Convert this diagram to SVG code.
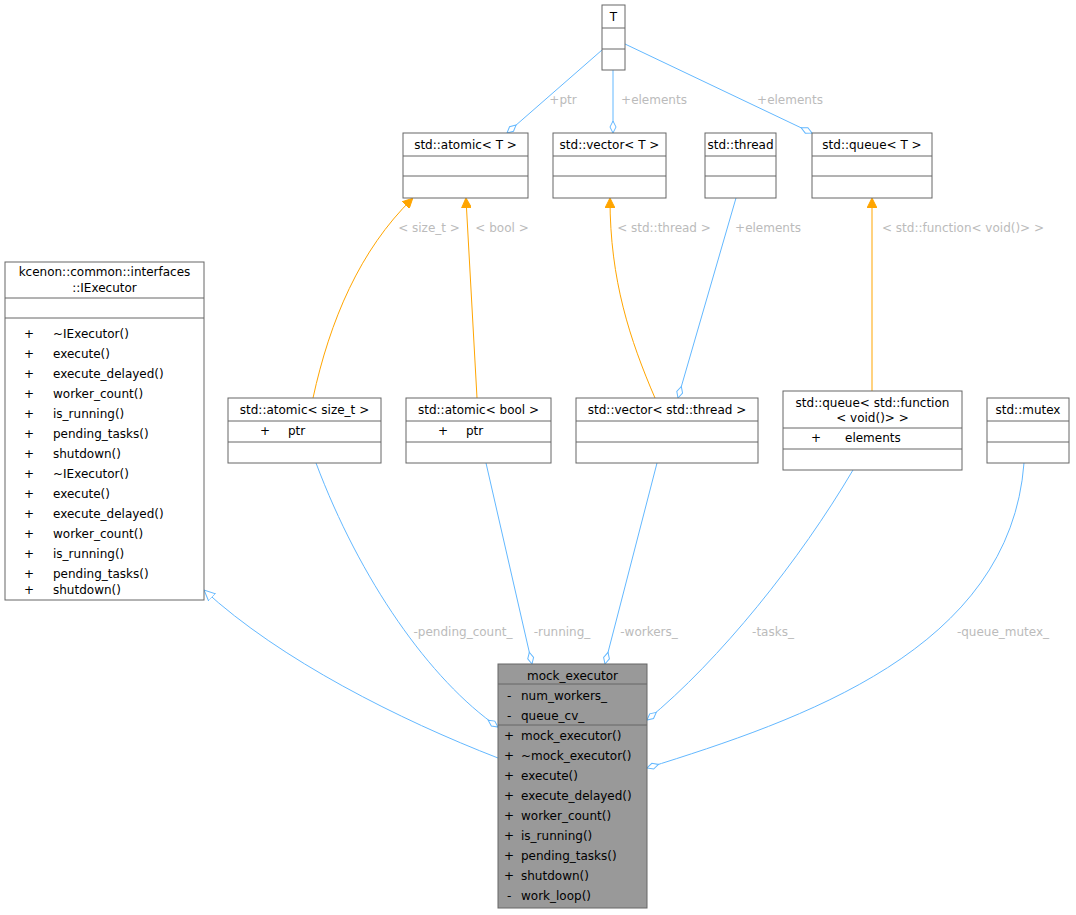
<svg xmlns="http://www.w3.org/2000/svg" width="1076" height="915" viewBox="0 0 1076 915">
<style>
text{font-family:"DejaVu Sans",sans-serif;font-size:12px;fill:#000}
.b{fill:#fff;stroke:#666;stroke-width:1}
.m{fill:#999;stroke:#666;stroke-width:1}
.s{stroke:#666;stroke-width:1}
.c{text-anchor:middle}
.l{fill:#bbb;text-anchor:middle}
.e{fill:none;stroke:#63b8ff;stroke-width:1}
.o{fill:none;stroke:#ffa500;stroke-width:1}
</style>
<defs>
<marker id="d" viewBox="0 0 14 8" refX="13" refY="4" markerWidth="14" markerHeight="8" markerUnits="userSpaceOnUse" orient="auto"><path d="M1,4 L7,1 L13,4 L7,7Z" fill="#fff" stroke="#63b8ff"/></marker>
<marker id="a" viewBox="0 0 10 10" refX="9" refY="5" markerWidth="10" markerHeight="10" markerUnits="userSpaceOnUse" orient="auto"><path d="M0,0 L10,5 L0,10Z" fill="#ffa500" stroke="#ffa500"/></marker>
<marker id="t" viewBox="0 0 12 12" refX="11" refY="6" markerWidth="12" markerHeight="12" markerUnits="userSpaceOnUse" orient="auto"><path d="M0,1 L11,6 L0,11Z" fill="#fff" stroke="#63b8ff"/></marker>
</defs>
<g id="edges">
<path class="e" d="M602,50 L507,133" marker-end="url(#d)"/>
<path class="e" d="M613,70 L613,133" marker-end="url(#d)"/>
<path class="e" d="M625,44 L812,133" marker-end="url(#d)"/>
<path class="o" d="M313,398 C330,320 360,250 412,199" marker-end="url(#a)"/>
<path class="o" d="M477,398 L466,199" marker-end="url(#a)"/>
<path class="o" d="M655,398 C630,340 610,280 610,199" marker-end="url(#a)"/>
<path class="e" d="M736,198 L678,398" marker-end="url(#d)"/>
<path class="o" d="M872,391 L872,199" marker-end="url(#a)"/>
<path class="e" d="M316,463 C360,580 430,680 498,727" marker-end="url(#d)"/>
<path class="e" d="M486,463 L532,664" marker-end="url(#d)"/>
<path class="e" d="M657,463 L605,664" marker-end="url(#d)"/>
<path class="e" d="M853,470 C800,560 720,660 647,720" marker-end="url(#d)"/>
<path class="e" d="M1024,463 C1010,650 800,720 647,768" marker-end="url(#d)"/>
<path class="e" d="M498,758 C400,720 280,660 204,590" marker-end="url(#t)"/>
<text class="l" x="563" y="104">+ptr</text>
<text class="l" x="654" y="104">+elements</text>
<text class="l" x="790" y="104">+elements</text>
<text class="l" x="429" y="232">&lt; size_t &gt;</text>
<text class="l" x="502" y="232">&lt; bool &gt;</text>
<text class="l" x="664" y="232">&lt; std::thread &gt;</text>
<text class="l" x="768" y="232">+elements</text>
<text class="l" x="963" y="232">&lt; std::function&lt; void()&gt; &gt;</text>
<text class="l" x="463" y="636">-pending_count_</text>
<text class="l" x="562" y="636">-running_</text>
<text class="l" x="649" y="636">-workers_</text>
<text class="l" x="773" y="636">-tasks_</text>
<text class="l" x="1003" y="636">-queue_mutex_</text>
</g>
<g id="T"><rect class="b" x="602" y="5" width="23" height="65"/><path class="s" d="M602,28H625M602,49H625"/><text class="c" x="613.5" y="21">T</text></g>
<g id="atomicT"><rect class="b" x="403" y="133" width="125" height="65"/><path class="s" d="M403,156H528M403,176H528"/><text class="c" x="465.5" y="149">std::atomic&lt; T &gt;</text></g>
<g id="vectorT"><rect class="b" x="553" y="133" width="113" height="65"/><path class="s" d="M553,156H666M553,176H666"/><text class="c" x="609.5" y="149">std::vector&lt; T &gt;</text></g>
<g id="thread"><rect class="b" x="705" y="133" width="71" height="65"/><path class="s" d="M705,156H776M705,176H776"/><text class="c" x="740.5" y="149">std::thread</text></g>
<g id="queueT"><rect class="b" x="812" y="133" width="120" height="65"/><path class="s" d="M812,156H932M812,176H932"/><text class="c" x="872" y="149">std::queue&lt; T &gt;</text></g>
<g id="iexecutor"><rect class="b" x="5" y="262" width="199" height="338"/><path class="s" d="M5,298H204M5,318H204"/>
<text class="c" x="104.5" y="276">kcenon::common::interfaces</text><text class="c" x="104.5" y="292">::IExecutor</text>
<g>
<text x="24" y="338">+</text><text x="53" y="338">~IExecutor()</text>
<text x="24" y="358">+</text><text x="53" y="358">execute()</text>
<text x="24" y="378">+</text><text x="53" y="378">execute_delayed()</text>
<text x="24" y="398">+</text><text x="53" y="398">worker_count()</text>
<text x="24" y="418">+</text><text x="53" y="418">is_running()</text>
<text x="24" y="438">+</text><text x="53" y="438">pending_tasks()</text>
<text x="24" y="458">+</text><text x="53" y="458">shutdown()</text>
<text x="24" y="478">+</text><text x="53" y="478">~IExecutor()</text>
<text x="24" y="498">+</text><text x="53" y="498">execute()</text>
<text x="24" y="518">+</text><text x="53" y="518">execute_delayed()</text>
<text x="24" y="538">+</text><text x="53" y="538">worker_count()</text>
<text x="24" y="558">+</text><text x="53" y="558">is_running()</text>
<text x="24" y="578">+</text><text x="53" y="578">pending_tasks()</text>
<text x="24" y="598" dy="-4">+</text><text x="53" y="594">shutdown()</text>
</g></g>
<g id="atomicSize"><rect class="b" x="228" y="398" width="153" height="65"/><path class="s" d="M228,421H381M228,442H381"/><text class="c" x="304.5" y="414">std::atomic&lt; size_t &gt;</text><text x="260" y="435">+</text><text x="288" y="435">ptr</text></g>
<g id="atomicBool"><rect class="b" x="406" y="398" width="145" height="65"/><path class="s" d="M406,421H551M406,442H551"/><text class="c" x="478.5" y="414">std::atomic&lt; bool &gt;</text><text x="438" y="435">+</text><text x="466" y="435">ptr</text></g>
<g id="vectorThread"><rect class="b" x="576" y="398" width="182" height="65"/><path class="s" d="M576,421H758M576,442H758"/><text class="c" x="667" y="414">std::vector&lt; std::thread &gt;</text></g>
<g id="queueFunc"><rect class="b" x="783" y="391" width="179" height="79"/><path class="s" d="M783,428H962M783,449H962"/><text class="c" x="872.5" y="407">std::queue&lt; std::function</text><text class="c" x="872.5" y="422">&lt; void()&gt; &gt;</text><text x="811" y="442">+</text><text x="845" y="442">elements</text></g>
<g id="mutex"><rect class="b" x="987" y="398" width="82" height="65"/><path class="s" d="M987,421H1069M987,442H1069"/><text class="c" x="1028" y="414">std::mutex</text></g>
<g id="mock"><rect class="m" x="498" y="664" width="149" height="244"/><path class="s" d="M498,684H647M498,725H647"/>
<text class="c" x="572.5" y="680">mock_executor</text>
<text x="507" y="700">-</text><text x="521" y="700">num_workers_</text>
<text x="507" y="720">-</text><text x="521" y="720">queue_cv_</text>
<text x="504" y="740">+</text><text x="521" y="740">mock_executor()</text>
<text x="504" y="760">+</text><text x="521" y="760">~mock_executor()</text>
<text x="504" y="780">+</text><text x="521" y="780">execute()</text>
<text x="504" y="800">+</text><text x="521" y="800">execute_delayed()</text>
<text x="504" y="820">+</text><text x="521" y="820">worker_count()</text>
<text x="504" y="840">+</text><text x="521" y="840">is_running()</text>
<text x="504" y="860">+</text><text x="521" y="860">pending_tasks()</text>
<text x="504" y="880">+</text><text x="521" y="880">shutdown()</text>
<text x="507" y="900">-</text><text x="521" y="900">work_loop()</text>
</g>
</svg>
